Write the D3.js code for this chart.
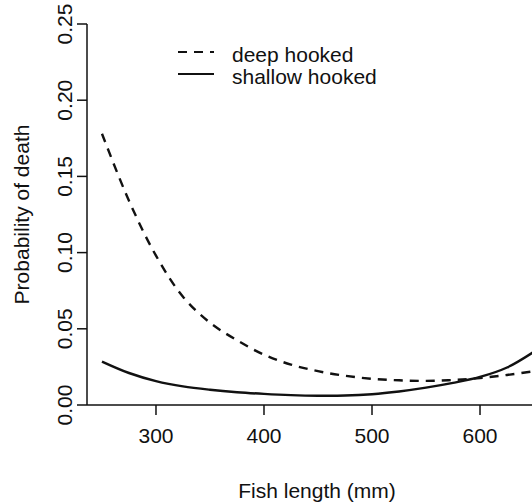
<!DOCTYPE html>
<html>
<head>
<meta charset="utf-8">
<script src="https://cdn.jsdelivr.net/npm/d3@7"></script>
<style>
    body { margin: 0; background: #fff; }
    text { font-family: "Liberation Sans", Arial, sans-serif; fill: #111; }
</style>
</head>
<body>
<div id="chart"></div>
<script>
const lengths = [250, 275, 300, 325, 350, 375, 400, 425, 450, 475, 500, 525, 550, 575, 600, 625, 650]
// probability of death, deep hooked fish (dashed)
const deepHooked = [0.178, 0.134, 0.098, 0.071, 0.054, 0.0425, 0.0330, 0.0265, 0.0222, 0.0192, 0.0172, 0.0162, 0.0158, 0.0164, 0.0177, 0.0197, 0.0222]
// probability of death, shallow hooked fish (solid)
const shallowHooked = [0.0285, 0.021, 0.0157, 0.0122, 0.0100, 0.0084, 0.0073, 0.0065, 0.0061, 0.0062, 0.0071, 0.0089, 0.0114, 0.0145, 0.0184, 0.0246, 0.0350]

const xTicks = [300, 400, 500, 600]
const yTicks = [0, 0.05, 0.10, 0.15, 0.20, 0.25]
const legendLabels = ["deep hooked", "shallow hooked"]
const legendDashes = ["9,7", null]

drawChart()

function drawChart() {
    let width = 532
    let height = 504

    var svg = d3.select("#chart")
        .append("svg")
        .attr("width", width)
        .attr("height", height)

    // x range is padded 4% beyond the data like R does, so it runs past the right edge
    var x = d3.scaleLinear()
        .domain([234, 666])
        .range([84.7, 551.3])

    var y = d3.scaleLinear()
        .domain([0, 0.25])
        .range([405, 24])

    let axisX = 87

    // L shaped frame
    svg.append("line")
        .attr("x1", axisX).attr("x2", width)
        .attr("y1", y(0)).attr("y2", y(0))
        .attr("stroke", "#111").attr("stroke-width", 1.5)
    svg.append("line")
        .attr("x1", axisX).attr("x2", axisX)
        .attr("y1", y(0)).attr("y2", y(0.25))
        .attr("stroke", "#111").attr("stroke-width", 1.5)

    // x ticks
    let xt = svg.append("g").selectAll("g")
        .data(xTicks)
        .enter()
        .append("g")
        .attr("transform", d => "translate(" + x(d) + "," + y(0) + ")")
    xt.append("line").attr("y2", 10).attr("stroke", "#111").attr("stroke-width", 1.5)
    xt.append("text")
        .attr("y", 38)
        .attr("text-anchor", "middle")
        .style("font-size", "21px")
        .text(d => d)

    // y ticks, labels turned parallel to the axis
    let yt = svg.append("g").selectAll("g")
        .data(yTicks)
        .enter()
        .append("g")
        .attr("transform", d => "translate(" + axisX + "," + y(d) + ")")
    yt.append("line").attr("x2", -10).attr("stroke", "#111").attr("stroke-width", 1.5)
    yt.append("text")
        .attr("transform", "translate(-15,0)rotate(-90)")
        .attr("text-anchor", "middle")
        .style("font-size", "21px")
        .text(d => d3.format(".2f")(d))

    // axis titles
    svg.append("text")
        .attr("x", 317)
        .attr("y", 498)
        .attr("text-anchor", "middle")
        .style("font-size", "21px")
        .text("Fish length (mm)")
    svg.append("text")
        .attr("transform", "translate(29," + (y(0) + y(0.25)) / 2 + ")rotate(-90)")
        .attr("text-anchor", "middle")
        .style("font-size", "21px")
        .text("Probability of death")

    // curves
    var line = d3.line()
        .x(d => x(d[0]))
        .y(d => y(d[1]))
        .curve(d3.curveCatmullRom)

    svg.append("path")
        .datum(lengths.map((l, i) => [l, deepHooked[i]]))
        .attr("d", line)
        .attr("fill", "none")
        .attr("stroke", "#111")
        .attr("stroke-width", 2.4)
        .attr("stroke-dasharray", legendDashes[0])

    svg.append("path")
        .datum(lengths.map((l, i) => [l, shallowHooked[i]]))
        .attr("d", line)
        .attr("fill", "none")
        .attr("stroke", "#111")
        .attr("stroke-width", 2.4)

    // legend
    let lg = svg.append("g").selectAll("g")
        .data(legendLabels)
        .enter()
        .append("g")
        .attr("transform", (d, i) => "translate(178," + (52 + i * 22) + ")")
    lg.append("line")
        .attr("x2", 36)
        .attr("stroke", "#111")
        .attr("stroke-width", 2.2)
        .attr("stroke-dasharray", (d, i) => legendDashes[i])
    lg.append("text")
        .attr("x", 54)
        .attr("y", 10)
        .style("font-size", "21px")
        .text(d => d)
}
</script>
</body>
</html>
